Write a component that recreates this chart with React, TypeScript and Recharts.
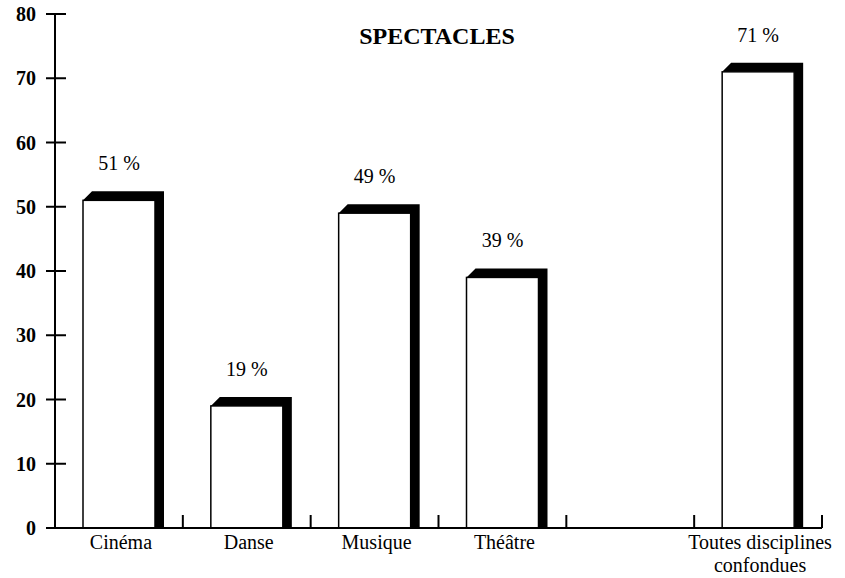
import { Bar, BarChart, LabelList, XAxis, YAxis } from "recharts";

const categories = ["Cinéma", "Danse", "Musique", "Théâtre", "", "Toutes disciplines confondues"];
const categoryLines = [["Cinéma"], ["Danse"], ["Musique"], ["Théâtre"], [], ["Toutes disciplines", "confondues"]];
const shares = [51, 19, 49, 39, null, 71];
const yTicks = [0, 10, 20, 30, 40, 50, 60, 70, 80];

const data = categories.map((name, i) => ({ name, share: shares[i] }));

const FONT = "'Liberation Serif', 'DejaVu Serif', serif";
const DEPTH = 9;

function ShadowBar(props: any) {
  const { x, y, width, height } = props;
  if (height == null || height <= 0) return null;
  const base = y + height;
  const pts = [
    [x, y],
    [x + DEPTH, y - DEPTH],
    [x + width + DEPTH, y - DEPTH],
    [x + width + DEPTH, base],
    [x + width, base],
    [x + width, y],
  ]
    .map((p) => p.join(","))
    .join(" ");
  return (
    <g>
      <polygon points={pts} fill="#000" />
      <rect x={x} y={y} width={width} height={height} fill="#fff" stroke="#000" strokeWidth={1.5} />
    </g>
  );
}

function PctLabel(props: any) {
  const { x, y, width, value } = props;
  if (value == null) return null;
  return (
    <text x={x + width / 2} y={y - 30} textAnchor="middle" fontFamily={FONT} fontSize={20} fill="#000">
      {value} %
    </text>
  );
}

function CategoryTick(props: any) {
  const { x, y, payload, index } = props;
  const lines = categoryLines[index] ?? [];
  const edge = payload.coordinate + (payload.offset ?? 0);
  return (
    <g>
      <line x1={edge} x2={edge} y1={y - 13} y2={y} stroke="#000" strokeWidth={2} />
      {lines.map((t: string, i: number) => (
        <text
          key={t}
          x={x + 2}
          y={y + 21 + i * 23}
          textAnchor="middle"
          fontFamily={FONT}
          fontSize={20}
          fill="#000"
        >
          {t}
        </text>
      ))}
    </g>
  );
}

function ValueTick(props: any) {
  const { x, y, payload } = props;
  return (
    <g>
      <line x1={x - 9} x2={x + 11} y1={y} y2={y} stroke="#000" strokeWidth={2} />
      <text x={x - 19} y={y} dy="0.35em" textAnchor="end" fontFamily={FONT} fontSize={20} fontWeight="bold" fill="#000">
        {payload.value}
      </text>
    </g>
  );
}

export default function App() {
  return (
    <div style={{ position: "absolute", left: 0, top: 0, width: 845, height: 578, background: "#fff" }}>
      <div
        style={{
          position: "absolute",
          left: 337,
          top: 21,
          width: 200,
          textAlign: "center",
          fontFamily: FONT,
          fontWeight: "bold",
          fontSize: 24,
          lineHeight: "30px",
        }}
      >
        SPECTACLES
      </div>
      <BarChart width={845} height={578} data={data} margin={{ top: 14, right: 23, bottom: 0, left: 0 }}>
        <XAxis
          dataKey="name"
          interval={0}
          height={50}
          tickSize={0}
          tickMargin={0}
          tickLine={false}
          axisLine={{ stroke: "#000", strokeWidth: 2 }}
          tick={<CategoryTick />}
        />
        <YAxis
          domain={[0, 80]}
          ticks={yTicks}
          width={55}
          tickSize={0}
          tickMargin={0}
          tickLine={false}
          axisLine={{ stroke: "#000", strokeWidth: 2 }}
          tick={<ValueTick />}
        />
        <Bar dataKey="share" barSize={72} shape={<ShadowBar />} isAnimationActive={false}>
          <LabelList dataKey="share" content={<PctLabel />} />
        </Bar>
      </BarChart>
    </div>
  );
}
